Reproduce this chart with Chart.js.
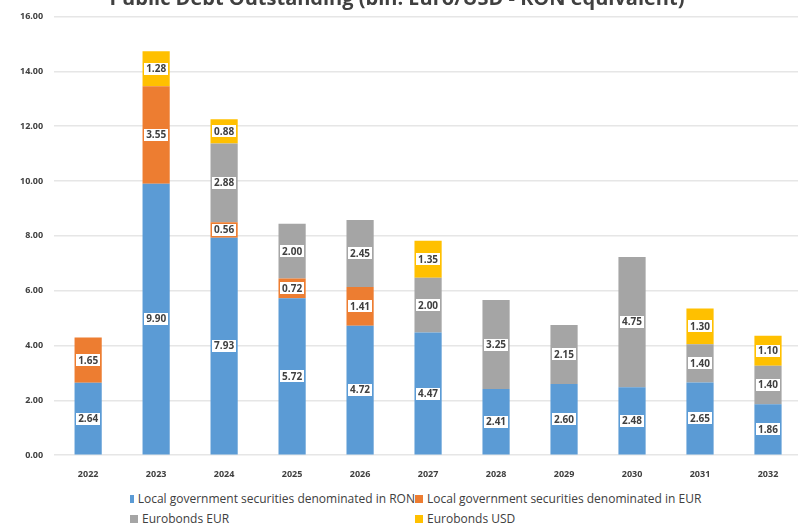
<!DOCTYPE html>
<html>
<head>
<meta charset="utf-8">
<script src="https://cdn.jsdelivr.net/npm/chart.js@4.4.0/dist/chart.umd.min.js"></script>
<style>
  html, body { margin: 0; padding: 0; background: #fff; overflow: hidden; width: 798px; height: 529px; }
  #wrap { position: absolute; left: 0; top: 0; width: 802px; height: 486px; }
  #legend { position: absolute; left: 130px; top: 490px; display: grid; grid-template-columns: 285px 300px; row-gap: 3px;
            font-family: 'Open Sans', sans-serif; font-size: 12px; color: #404040; }
  #legend div { display: flex; align-items: center; white-space: nowrap; }
  #legend span.box { display: inline-block; width: 8px; height: 8px; margin-right: 4px; }
</style>
</head>
<body>
<div id="wrap"><canvas id="c"></canvas></div>
<div id="legend"></div>
<script>
const categories = ['2022','2023','2024','2025','2026','2027','2028','2029','2030','2031','2032'];
const seriesNames = [
  'Local government securities denominated in RON',
  'Local government securities denominated in EUR',
  'Eurobonds EUR',
  'Eurobonds USD'
];
const localRON  = [2.64, 9.90, 7.93, 5.72, 4.72, 4.47, 2.41, 2.60, 2.48, 2.65, 1.86];
const localEUR  = [1.65, 3.55, 0.56, 0.72, 1.41, null, null, null, null, null, null];
const euroEUR   = [null, null, 2.88, 2.00, 2.45, 2.00, 3.25, 2.15, 4.75, 1.40, 1.40];
const euroUSD   = [null, 1.28, 0.88, null, null, 1.35, null, null, null, 1.30, 1.10];
const yTicks = [0, 2, 4, 6, 8, 10, 12, 14, 16];
const titleText = 'Public Debt Outstanding (bln. Euro/USD - RON equivalent)';
const colors = ['#5B9BD5', '#ED7D31', '#A5A5A5', '#FFC000'];

const seriesData = [localRON, localEUR, euroEUR, euroUSD];

const labelPlugin = {
  id: 'boxLabels',
  afterDatasetsDraw(chart) {
    const ctx = chart.ctx;
    ctx.save();
    ctx.font = 'bold 10px "Open Sans", sans-serif';
    ctx.textAlign = 'center';
    ctx.textBaseline = 'middle';
    chart.data.datasets.forEach((ds, i) => {
      const meta = chart.getDatasetMeta(i);
      meta.data.forEach((bar, j) => {
        const v = ds.data[j];
        if (v === null || v === undefined) return;
        const cy = (bar.y + bar.base) / 2;
        const txt = v.toFixed(2);
        const w = ctx.measureText(txt).width + 6;
        const h = 14;
        ctx.fillStyle = '#fff';
        ctx.fillRect(Math.round(bar.x - w / 2), Math.round(cy - h / 2), Math.round(w), h);
        ctx.strokeStyle = ds.backgroundColor;
        ctx.lineWidth = 1;
        ctx.strokeRect(Math.round(bar.x - w / 2) + 0.5, Math.round(cy - h / 2) + 0.5, Math.round(w) - 1, h - 1);
        ctx.fillStyle = '#404040';
        ctx.fillText(txt, bar.x, cy + 0.5);
      });
    });
    ctx.restore();
  }
};

const titlePlugin = {
  id: 'cutTitle',
  afterDraw(chart) {
    const ctx = chart.ctx;
    ctx.save();
    ctx.font = 'bold 20px "Open Sans", sans-serif';
    ctx.fillStyle = '#404040';
    ctx.textAlign = 'center';
    ctx.textBaseline = 'alphabetic';
    ctx.fillText(titleText, 397, 5);
    ctx.restore();
  }
};

new Chart(document.getElementById('c'), {
  type: 'bar',
  data: {
    labels: categories,
    datasets: seriesData.map((d, i) => ({
      label: seriesNames[i],
      data: d,
      backgroundColor: colors[i],
      borderWidth: 0,
      barPercentage: 1,
      categoryPercentage: 0.4
    }))
  },
  options: {
    responsive: true,
    maintainAspectRatio: false,
    animation: false,
    layout: { padding: { top: 7, left: 9, right: 0, bottom: 0 } },
    plugins: { legend: { display: false }, tooltip: { enabled: false }, title: { display: false } },
    scales: {
      x: {
        stacked: true,
        grid: { display: false },
        border: { display: false },
        ticks: { color: '#404040', font: { family: 'Open Sans', size: 9, weight: 'bold' }, padding: 6 }
      },
      y: {
        stacked: true,
        min: 0, max: 16,
        afterBuildTicks(axis) { axis.ticks = yTicks.map(v => ({ value: v })); },
        grid: { color: '#e6e6e6', lineWidth: 1.5, drawTicks: false },
        border: { display: false },
        ticks: { color: '#404040', font: { family: 'Open Sans', size: 9, weight: 'bold' }, padding: 11,
                 callback: v => Number(v).toFixed(2) }
      }
    }
  },
  plugins: [labelPlugin, titlePlugin]
});

const leg = document.getElementById('legend');
seriesNames.forEach((n, i) => {
  const d = document.createElement('div');
  d.innerHTML = '<span class="box" style="background:' + colors[i] + '"></span>' + n;
  leg.appendChild(d);
});
</script>
</body>
</html>
